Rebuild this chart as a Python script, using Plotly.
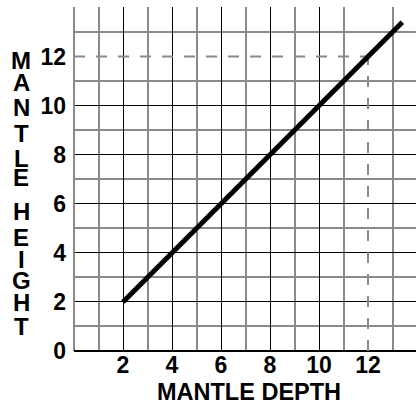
import plotly.graph_objects as go

# data
line_x = [2, 13.4]
line_y = [2, 13.4]
guide_h_x = [0, 12]
guide_h_y = [12, 12]
guide_v_x = [12, 12]
guide_v_y = [0, 12]
x_ticks = [2, 4, 6, 8, 10, 12]
x_ticktext = ["2", "4", "6", "8", "10", "12"]
y_ticks = [0, 2, 4, 6, 8, 10, 12]
y_ticktext = ["0", "2", "4", "6", "8", "10", "12"]
x_grid_major = [2, 4, 6, 8, 10]
x_grid_minor = [1, 3, 5, 7, 9, 11, 13]
y_grid_major = [2, 4, 6, 8, 10, 14]
y_grid_minor = [1, 3, 5, 7, 9, 11, 13]
x_title = "MANTLE DEPTH"
y_title_letters = ["M", "A", "N", "T", "L", "E", "H", "E", "I", "G", "H", "T"]

W, H = 416, 404
L, R, T, B = 74, 0, 7, 53
pw, ph = W - L - R, H - T - B
XR = [0, pw / 24.5]
YR = [0, 14.02]

def px2paper_x(px):
    return (px - L) / pw

def px2paper_y(py):
    return (H - B - py) / ph

FONT = "Liberation Sans, Arial, sans-serif"
GRAY = "#8a8a8a"

fig = go.Figure()
# invisible trace to anchor grid axes
fig.add_trace(go.Scatter(x=XR, y=YR, mode="markers", marker=dict(opacity=0),
                         hoverinfo="skip", showlegend=False, xaxis="x", yaxis="y"))
fig.add_trace(go.Scatter(x=guide_h_x, y=guide_h_y, mode="lines",
                         line=dict(color=GRAY, width=2, dash="11px,11px"),
                         hoverinfo="skip", showlegend=False, xaxis="x2", yaxis="y2"))
fig.add_trace(go.Scatter(x=guide_v_x, y=guide_v_y, mode="lines",
                         line=dict(color=GRAY, width=2, dash="11px,11px"),
                         hoverinfo="skip", showlegend=False, xaxis="x2", yaxis="y2"))
fig.add_trace(go.Scatter(x=line_x, y=line_y, mode="lines",
                         line=dict(color="black", width=5),
                         showlegend=False, xaxis="x2", yaxis="y2"))

letter_y_px = [60, 83, 108, 133, 158, 177, 212, 237, 259, 280, 302, 326]
annotations = []
for ch, py in zip(y_title_letters, letter_y_px):
    annotations.append(dict(text=ch, x=px2paper_x(21), y=px2paper_y(py),
                            xref="paper", yref="paper", showarrow=False,
                            xanchor="center", yanchor="middle",
                            font=dict(family=FONT, size=24, color="black", weight="bold")))
annotations.append(dict(text=x_title, x=px2paper_x(249), y=px2paper_y(392),
                        xref="paper", yref="paper", showarrow=False,
                        xanchor="center", yanchor="middle",
                        font=dict(family=FONT, size=23.5, color="black", weight="bold")))

tickfont = dict(family=FONT, size=23, color="black", weight="bold")

fig.update_layout(
    width=W, height=H,
    margin=dict(l=L, r=R, t=T, b=B, pad=0),
    paper_bgcolor="white", plot_bgcolor="white",
    annotations=annotations,
    xaxis=dict(range=XR, tickvals=x_grid_major, showticklabels=False,
               showgrid=True, gridcolor="black", gridwidth=1,
               minor=dict(tickvals=x_grid_minor, showgrid=True, gridcolor=GRAY, gridwidth=1.6),
               zeroline=True, zerolinecolor=GRAY, zerolinewidth=1.6,
               showline=False, ticks="", fixedrange=True),
    yaxis=dict(range=YR, tickvals=y_grid_major, showticklabels=False,
               showgrid=True, gridcolor="black", gridwidth=1,
               minor=dict(tickvals=y_grid_minor, showgrid=True, gridcolor=GRAY, gridwidth=1.6),
               zeroline=True, zerolinecolor="black", zerolinewidth=1.5,
               showline=False, ticks="", fixedrange=True),
    xaxis2=dict(range=XR, overlaying="x", anchor="y2", side="bottom",
                tickvals=x_ticks, ticktext=x_ticktext, showgrid=False, zeroline=False,
                showline=False, ticks="", ticklabelstandoff=-2, tickfont=tickfont,
                fixedrange=True),
    yaxis2=dict(range=YR, overlaying="y", anchor="x2", side="left",
                tickvals=y_ticks, ticktext=y_ticktext, showgrid=False, zeroline=False,
                showline=False, ticks="", ticklabelstandoff=7, tickfont=tickfont,
                fixedrange=True),
)

fig.write_html("out.html", config={"displayModeBar": False},
               post_script="document.body.style.margin='0';document.body.style.overflow='hidden';")
